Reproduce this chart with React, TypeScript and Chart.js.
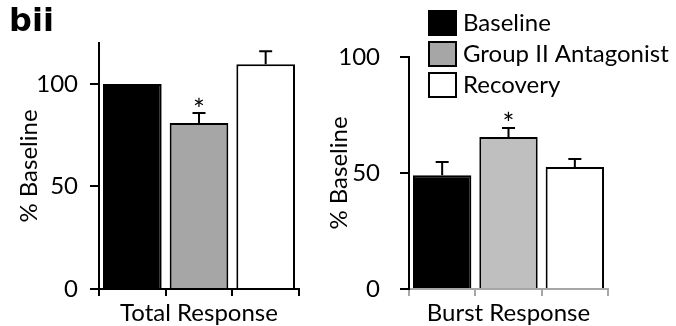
import React, { useEffect, useRef } from "react";
import { Chart, registerables } from "chart.js";
Chart.register(...registerables);

const groups = ["Baseline", "Group II Antagonist", "Recovery"];
const totalValues = [100, 81, 109.6];
const totalErrors = [0, 4.8, 6.4];
const totalSig = [false, true, false];
const burstValues = [49, 65.5, 52.6];
const burstErrors = [5.7, 3.9, 3.4];
const burstSig = [false, true, false];
const totalColors = ["#000000", "#a6a6a6", "#ffffff"];
const burstColors = ["#000000", "#bfbfbf", "#ffffff"];
const legendColors = ["#000000", "#a6a6a6", "#ffffff"];
const yTicks = [0, 50, 100];
const totalMax = 120;
const burstMax = 100;

const FONT = "Lato, 'Open Sans', sans-serif";
const FS = 24;

const errorBarPlugin = {
  id: "errorBars",
  afterDatasetsDraw(chart: any, _args: any, opts: any) {
    const { ctx } = chart;
    const meta = chart.getDatasetMeta(0);
    const yScale = chart.scales.y;
    const values = chart.data.datasets[0].data as number[];
    ctx.save();
    ctx.strokeStyle = "#000";
    ctx.lineWidth = 2;
    meta.data.forEach((bar: any, i: number) => {
      const err = opts.errors[i] || 0;
      const top = yScale.getPixelForValue(values[i]);
      const ye = yScale.getPixelForValue(values[i] + err);
      if (err > 0) {
        ctx.beginPath();
        ctx.moveTo(bar.x, top);
        ctx.lineTo(bar.x, ye);
        ctx.moveTo(bar.x - 6.5, ye);
        ctx.lineTo(bar.x + 6.5, ye);
        ctx.stroke();
      }
      if (opts.sig[i]) {
        ctx.fillStyle = "#000";
        ctx.font = `28px ${FONT}`;
        ctx.textAlign = "center";
        ctx.textBaseline = "alphabetic";
        const m = ctx.measureText("*");
        const asc = m.actualBoundingBoxAscent || 0;
        const desc = m.actualBoundingBoxDescent || 0;
        const cy = ye - 11.5;
        ctx.fillText("*", bar.x, cy + (asc - desc) / 2);
      }
    });
    ctx.restore();
  },
};

const legendPlugin = {
  id: "boxLegend",
  afterDraw(chart: any, _args: any, opts: any) {
    if (!opts || !opts.show) return;
    const { ctx } = chart;
    ctx.save();
    ctx.font = `${FS}px ${FONT}`;
    ctx.textBaseline = "alphabetic";
    ctx.textAlign = "left";
    const capM = ctx.measureText("B");
    const cap = capM.actualBoundingBoxAscent || 17;
    opts.labels.forEach((label: string, i: number) => {
      const x = opts.x;
      const y = opts.y + i * 31;
      ctx.fillStyle = opts.colors[i];
      ctx.fillRect(x, y, 27, 24);
      ctx.strokeStyle = "#000";
      ctx.lineWidth = 2;
      ctx.strokeRect(x, y, 27, 24);
      ctx.fillStyle = "#000";
      ctx.fillText(label, x + 34, y + 11 + cap / 2);
    });
    ctx.restore();
  },
};

function makeConfig(
  values: number[],
  errors: number[],
  sig: boolean[],
  colors: string[],
  max: number,
  xTitle: string,
  xColor: string,
  pad: any,
  tickPad: number,
  legend: any
): any {
  return {
    type: "bar",
    data: {
      labels: groups,
      datasets: [
        {
          data: values,
          backgroundColor: colors,
          borderColor: "#000",
          borderWidth: 2,
          barPercentage: 0.88,
          categoryPercentage: 1,
        },
      ],
    },
    plugins: [errorBarPlugin, legendPlugin],
    options: {
      responsive: false,
      animation: false,
      layout: { padding: pad },
      plugins: {
        legend: { display: false },
        tooltip: { enabled: false },
        errorBars: { errors, sig },
        boxLegend: legend,
      },
      scales: {
        x: {
          offset: true,
          grid: {
            display: true,
            offset: true,
            drawOnChartArea: false,
            drawTicks: true,
            tickLength: 7,
            color: xColor,
            lineWidth: 2,
          },
          border: { display: true, color: xColor, width: 2 },
          ticks: { display: false },
          title: {
            display: true,
            text: xTitle,
            color: "#000",
            font: { family: FONT, size: FS, lineHeight: 1 },
            padding: { top: 0, bottom: 1 },
          },
          afterFit: (s: any) => {
            s.height = 37;
          },
        },
        y: {
          min: 0,
          max,
          afterBuildTicks: (s: any) => {
            s.ticks = yTicks.map((v) => ({ value: v }));
          },
          grid: {
            drawOnChartArea: false,
            drawTicks: true,
            tickLength: 9,
            color: "#000",
            lineWidth: 2,
          },
          border: { display: true, color: "#000", width: 2 },
          ticks: {
            color: "#000",
            font: { family: FONT, size: FS },
            padding: tickPad,
          },
          title: {
            display: true,
            text: "% Baseline",
            color: "#000",
            font: { family: FONT, size: FS, lineHeight: 1 },
            padding: { top: 17, bottom: 0 },
          },
          afterFit: (s: any) => {
            s.width = 99;
          },
        },
      },
    },
  };
}

export default function App() {
  const leftRef = useRef<HTMLCanvasElement>(null);
  const rightRef = useRef<HTMLCanvasElement>(null);

  useEffect(() => {
    const left = new Chart(
      leftRef.current as HTMLCanvasElement,
      makeConfig(
        totalValues,
        totalErrors,
        totalSig,
        totalColors,
        totalMax,
        "Total Response",
        "#000",
        { left: 0, top: 43, right: 11, bottom: 0 },
        12,
        { show: false }
      )
    );
    const right = new Chart(
      rightRef.current as HTMLCanvasElement,
      makeConfig(
        burstValues,
        burstErrors,
        burstSig,
        burstColors,
        burstMax,
        "Burst Response",
        "#a6a6a6",
        { left: 0, top: 57, right: 68, bottom: 0 },
        20,
        { show: true, labels: groups, colors: legendColors, x: 119, y: 11 }
      )
    );
    return () => {
      left.destroy();
      right.destroy();
    };
  }, []);

  return (
    <div
      style={{
        position: "absolute",
        left: 0,
        top: 0,
        width: 676,
        height: 326,
        background: "#fff",
        overflow: "hidden",
      }}
    >
      <canvas
        ref={leftRef}
        width={310}
        height={326}
        style={{ position: "absolute", left: 0, top: 0 }}
      />
      <canvas
        ref={rightRef}
        width={366}
        height={326}
        style={{ position: "absolute", left: 310, top: 0 }}
      />
      <div
        style={{
          position: "absolute",
          left: 9,
          top: 1,
          fontFamily: "'DejaVu Sans', sans-serif",
          fontWeight: "bold",
          fontSize: 32,
          color: "#000",
          lineHeight: "normal",
        }}
      >
        bii
      </div>
    </div>
  );
}
